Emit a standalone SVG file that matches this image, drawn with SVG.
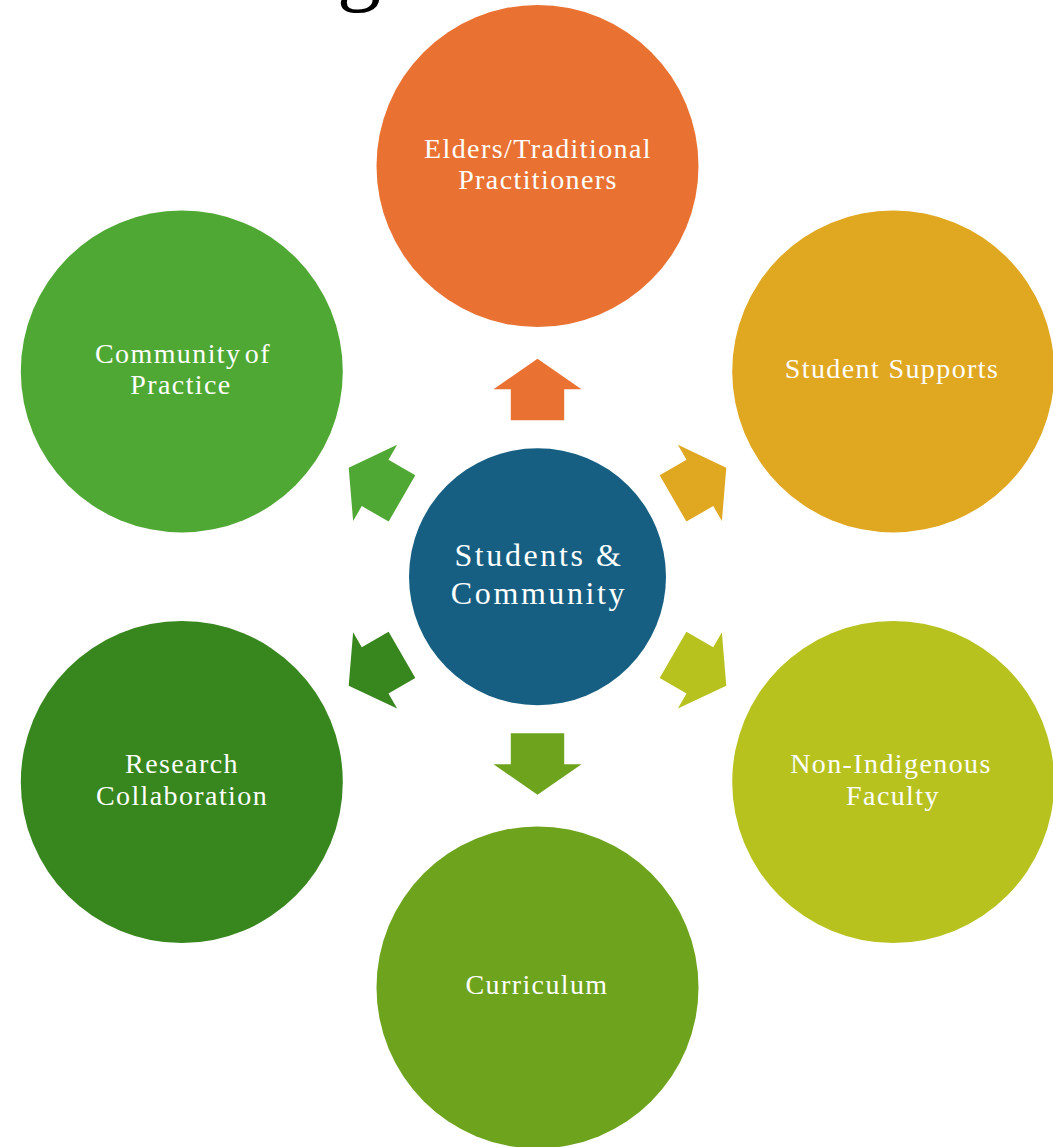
<svg xmlns="http://www.w3.org/2000/svg" width="1053" height="1147" viewBox="0 0 1053 1147">
  <defs>
    <path id="arr" d="M0,-218 L44,-187.5 L26.7,-187.5 L26.7,-156.5 L-26.7,-156.5 L-26.7,-187.5 L-44,-187.5 Z"/>
  </defs>
  <style>
    .lbl { font-family: "Liberation Serif", "Times New Roman", serif; font-size: 28px; fill: #ffffff; text-anchor: middle; letter-spacing: 1.4px; }
    .ctr { font-family: "Liberation Serif", "Times New Roman", serif; font-size: 32px; fill: #ffffff; text-anchor: middle; letter-spacing: 2.6px; }
    .ttl { font-family: "Liberation Serif", "Times New Roman", serif; font-size: 88px; fill: #000000; }
  </style>
  <rect width="1053" height="1147" fill="#ffffff"/>
  <text class="ttl" x="337" y="-6">g</text>

  <g id="connectors" transform="translate(537.5,576.7)">
    <use href="#arr" fill="#E97233"/>
    <use href="#arr" fill="#E0A720" transform="rotate(60)"/>
    <use href="#arr" fill="#B7C21F" transform="rotate(120)"/>
    <use href="#arr" fill="#6DA31D" transform="rotate(180)"/>
    <use href="#arr" fill="#37861E" transform="rotate(240)"/>
    <use href="#arr" fill="#4FA833" transform="rotate(300)"/>
  </g>

  <g id="center">
    <circle cx="537.5" cy="576.7" r="128.5" fill="#165F82"/>
    <text class="ctr" x="539" y="566">Students &amp;</text>
    <text class="ctr" x="539" y="604">Community</text>
  </g>

  <g id="elders">
    <circle cx="537.5" cy="166" r="161" fill="#E97233"/>
    <text class="lbl" x="538" y="158">Elders/Traditional</text>
    <text class="lbl" x="538" y="189">Practitioners</text>
  </g>

  <g id="student-supports">
    <circle cx="893.2" cy="371.4" r="161" fill="#E0A720"/>
    <text class="lbl" x="892" y="378">Student Supports</text>
  </g>

  <g id="non-indigenous">
    <circle cx="893.2" cy="782" r="161" fill="#B7C21F"/>
    <text class="lbl" x="891" y="773">Non-Indigenous</text>
    <text class="lbl" x="893" y="805">Faculty</text>
  </g>

  <g id="curriculum">
    <circle cx="537.5" cy="987.4" r="161" fill="#6DA31D"/>
    <text class="lbl" x="537" y="994">Curriculum</text>
  </g>

  <g id="research">
    <circle cx="181.8" cy="782" r="161" fill="#37861E"/>
    <text class="lbl" x="182" y="773">Research</text>
    <text class="lbl" x="182" y="805">Collaboration</text>
  </g>

  <g id="community-of-practice">
    <circle cx="181.8" cy="371.4" r="161" fill="#4FA833"/>
    <text class="lbl" x="183" y="363" word-spacing="-5">Community of</text>
    <text class="lbl" x="181" y="394">Practice</text>
  </g>
</svg>
